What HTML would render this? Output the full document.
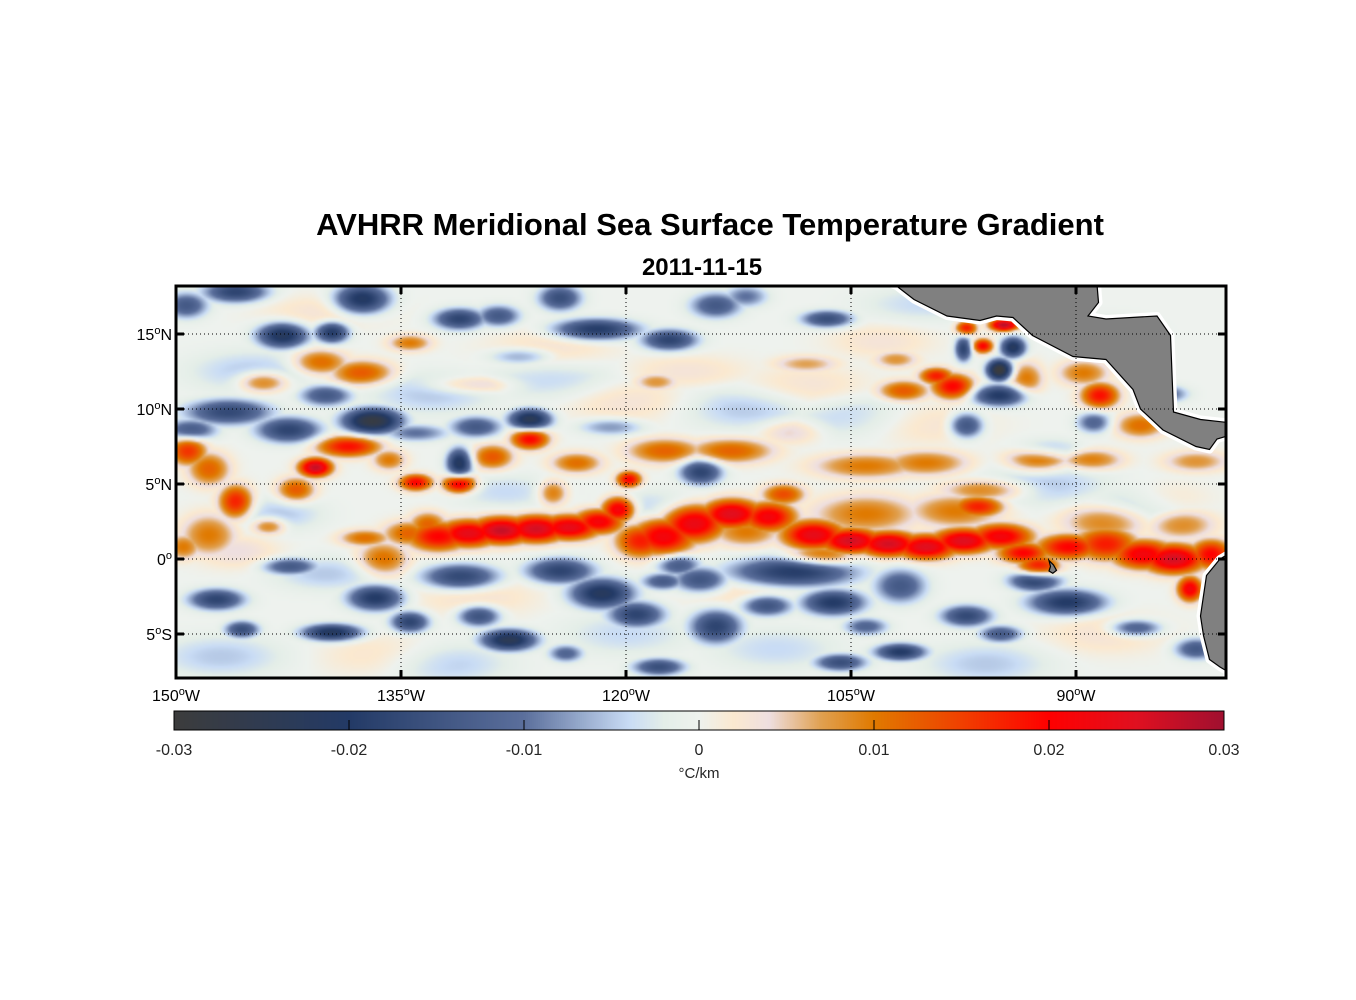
<!DOCTYPE html>
<html><head><meta charset="utf-8"><style>
html,body{margin:0;padding:0;background:#fff;width:1356px;height:1000px;overflow:hidden}
#map{position:absolute;left:176px;top:286px;width:1050px;height:392px}
#cbar{position:absolute;left:174px;top:711px;width:1050px;height:19px}
svg{position:absolute;left:0;top:0}
text{font-family:"Liberation Sans",Arial,sans-serif}
</style></head><body>
<canvas id="map" width="525" height="196"></canvas>
<canvas id="cbar" width="1050" height="19"></canvas>
<svg id="ov" width="1356" height="1000">
<text x="710" y="235" font-size="31" font-weight="bold" text-anchor="middle" fill="#000">AVHRR Meridional Sea Surface Temperature Gradient</text>
<text x="702" y="275" font-size="24" font-weight="bold" text-anchor="middle" fill="#000">2011-11-15</text>
<g id="land"></g>
<g id="grid"></g>
<rect x="176" y="286" width="1050" height="392" fill="none" stroke="#000" stroke-width="3"/>
<g id="labels"></g>
<rect x="174" y="711" width="1050" height="19" fill="none" stroke="#000" stroke-width="1"/>
<g id="cbticks"></g>
<text x="699" y="778" font-size="15" text-anchor="middle" fill="#262626">°C/km</text>
</svg>
<script>
// ---- data ----
const lonTicks=[-150,-135,-120,-105,-90];
const latTicks=[15,10,5,0,-5];
const cbTicks=[-0.03,-0.02,-0.01,0,0.01,0.02,0.03];
const cbLabels=["-0.03","-0.02","-0.01","0","0.01","0.02","0.03"];
const cmapVals=[-0.03,-0.02,-0.01,-0.004,-0.002,0,0.002,0.004,0.007,0.01,0.015,0.02,0.025,0.03];
const cmapCols=["#3c3c3c","#233a66","#5b6f9c","#c9dcf5","#e4eee8","#eef2ee","#fbe9d0","#eedfe0","#e0a050","#e07a00","#f04000","#ff0000","#e01020","#a01030"];
// feature blobs: lon, lat, spread lon, spread lat, value (°C/km)
const blobLon=[-134.5,-132.5,-130.5,-128.3,-126,-123.8,-121.8,-120.5,-119,-117.5,-115.5,-113,-110.5,-109.5,-107.5,-105,-102.5,-100,-97.5,-95,-93.5,-92.5,-90.5,-88,-85.5,-83.5,-81,
-104,-98,-96,-96.5,-88,-83,-112,-107,
-113,-104,-100,-92.5,-89,-82,-109,
-98.2,-101.5,-99.3,-96.2,-97.3,-94.8,-95.1,-94.2,-97.5,-95.1,-97.3,-93.3,-88.4,-89.5,-85.7,-88.8,-91.8,
-114,-106.6,-112,-84,-115,-108,-102,
-109,-106.2,-101.7,-92.7,-90.6,-97.3,-114,-110.6,-101.7,-105.7,-115,-95,-86,-82.4,-82,-104,
-146,-137.6,-131.1,-128.5,-124.4,-122,-117.1,-142.9,-139.6,-149.3,-127,
-140.4,-137.6,-144.2,-134.4,-130.4,-118,
-146.5,-142.5,-136.9,-140,-130,-126.4,-131.1,-134,-149,-121,
-149.2,-147.8,-140.7,-138.5,-142,-146,-147.8,-149.5,-143.8,-137.4,-136.2,-134,-131.1,-135.8,-126.4,-128.9,-123.3,-124.9,-119.8,-117.4,-133.2,
-147.3,-142.4,-136.7,-139.6,-145.6,-134.4,-131,-127.8,-129.8,-124.4,-121.6,-119.3,-117.8,-124,-116.5,-117.5,
-145,-133,-125,-112,-105,-92,-86,-147,-132,-110,-96,-120,-140,-128,-118,-143,-100,-88,
-120,-108,-100,-125,-140,-130,-112,-88,-146,-136,-116,-103,-84];
const blobLat=[1.7,1.5,1.7,1.9,2.0,2.1,2.5,3.3,1.2,1.5,2.4,3.0,2.8,4.3,1.6,1.2,1.0,0.8,1.2,1.5,0.4,-0.6,0.8,1.0,0.3,0.0,0.3,
3.0,3.2,4.6,3.5,2.5,2.3,1.8,0.2,
7.2,6.2,6.4,6.6,6.6,6.5,8.5,
11.5,11.2,12.2,14.2,15.4,15.6,12.6,14.1,14,10.9,8.9,12,10.9,12.4,8.9,9.1,7.3,
16.9,16,17.5,11,5.8,13,13.3,
-0.9,-2.9,-1.8,-1.4,-2.9,-3.8,-4.5,-3.1,-6.2,-6.9,-1.4,-5,-4.6,-2.0,-6,-4.5,
17.8,17.3,16,16.2,17.4,15.3,14.6,14.9,15.1,16.9,13.5,
13.1,12.4,11.8,14.4,11.6,11.8,
9.8,8.6,9.2,10.9,8.8,9.3,6.4,8.4,8.6,8.8,
7.2,6.0,6.1,7.5,4.6,3.8,1.6,0.8,2.2,1.4,0.0,5.1,5.0,6.6,8.0,6.8,6.4,4.4,5.3,7.2,2.3,
-2.7,-0.5,-2.6,-4.9,-4.7,-4.2,-1.2,-5.4,-3.8,-0.8,-2.3,-3.7,-7.2,-6.3,-0.4,-1.5,
12.5,11,12,10,9.5,5,3.5,-6.5,-7,-6,-7,-5,-1,4.5,3.5,3,17,15,
10.5,11.5,9,14,16.5,-2.5,-2,-5,0.5,-6.5,12.5,14.5,4];
const blobSx=[1.2,1.5,1.5,1.5,1.5,1.5,1.2,0.8,1.2,1.5,1.5,1.5,1.3,1,1.5,1.5,1.5,1.5,1.5,1.5,1.2,1,1.5,1.5,1.5,1.5,1,
2.5,2.2,2,1.2,2,1.6,1.6,1.6,
2,2.5,2,1.5,1.5,1.5,1.5,
1,1.2,0.8,0.5,0.5,0.7,0.6,0.6,0.4,1.3,0.8,0.8,0.9,1.2,1.2,0.8,1.5,
1.2,1.2,1,1,1,1.5,1,
3,1.5,1.2,1.2,1.8,1.2,1.2,1.2,1.2,1.2,1.3,1,1.2,0.6,1,1,
1.5,1.3,1.2,1,1,2,1.3,1.2,0.8,1,1.5,
1.3,1.5,1.2,1,2,1,
2,1.5,1.4,1.2,1.2,1,0.6,1.5,1.2,1.5,
0.9,1,0.8,1.5,0.9,0.8,1.3,0.8,0.8,1.2,1.2,0.8,0.8,0.8,0.9,1,1.2,0.7,0.6,1.8,0.9,
1.3,1.3,1.3,1.4,0.8,0.9,1.8,1.3,1,1.6,1.5,1.3,1.2,0.8,1,1,
3,3,3,3,3,3,2.5,3,3,3,3,3,2.5,2.5,2.5,2,3,2,
3,3,3,3,3,3,3,3,2,3,3,2.5,2];
const blobSy=[0.6,0.7,0.65,0.65,0.65,0.6,0.6,0.6,0.8,0.9,0.9,0.7,0.7,0.5,0.7,0.6,0.6,0.6,0.6,0.6,0.5,0.6,0.6,0.8,0.7,0.7,0.7,
0.9,0.8,0.5,0.5,0.8,0.7,0.7,0.5,
0.6,0.6,0.6,0.6,0.5,0.5,0.6,
0.6,0.5,0.4,0.35,0.35,0.3,0.5,0.5,0.6,0.5,0.6,0.8,0.6,0.6,0.6,0.5,0.5,
0.6,0.4,0.5,0.4,0.6,0.4,0.4,
0.7,0.6,0.8,0.5,0.6,0.5,0.8,0.5,0.4,0.4,0.6,0.4,0.4,0.6,0.5,0.4,
0.5,0.7,0.5,0.5,0.6,0.5,0.5,0.6,0.5,0.6,0.4,
0.6,0.6,0.5,0.4,0.4,0.4,
0.6,0.6,0.6,0.5,0.5,0.5,0.7,0.4,0.5,0.4,
0.7,0.8,0.45,0.5,0.6,0.8,1,0.6,0.4,0.4,0.8,0.4,0.45,0.5,0.5,0.6,0.5,0.6,0.4,0.6,0.6,
0.5,0.4,0.6,0.4,0.4,0.5,0.6,0.5,0.5,0.6,0.7,0.6,0.4,0.4,0.5,0.4,
1,1,1,1,1,1,1,1,1,1,1,1,0.8,0.8,0.8,0.8,0.8,0.8,
1,1,1,1,0.8,1,1,1,0.8,1,0.8,0.8,0.8];
const blobVal=[0.012,0.02,0.024,0.027,0.026,0.024,0.022,0.024,0.018,0.022,0.024,0.025,0.022,0.014,0.024,0.026,0.026,0.025,0.025,0.022,0.02,0.02,0.02,0.018,0.022,0.026,0.02,
0.01,0.01,0.01,0.018,0.01,0.009,0.01,0.012,
0.012,0.01,0.01,0.011,0.01,0.008,0.005,
0.02,0.013,0.018,0.02,0.018,0.028,-0.03,-0.022,-0.018,-0.02,-0.016,0.01,0.019,0.01,0.011,-0.012,-0.006,
-0.014,-0.016,-0.01,-0.012,-0.018,0.007,0.008,
-0.02,-0.02,-0.014,-0.022,-0.02,-0.017,-0.018,-0.016,-0.02,-0.016,-0.016,-0.014,-0.014,0.022,-0.014,-0.012,
-0.018,-0.022,-0.018,-0.014,-0.016,-0.02,-0.018,-0.022,-0.02,-0.014,-0.008,
0.012,0.013,0.012,0.01,0.006,0.008,
-0.017,-0.018,-0.028,-0.014,-0.014,-0.024,-0.022,-0.01,-0.014,-0.008,
0.016,0.012,0.027,0.019,0.013,0.018,0.01,0.01,0.011,0.011,0.011,0.02,0.022,0.01,0.02,0.013,0.011,0.011,0.02,0.012,0.012,
-0.018,-0.014,-0.02,-0.022,-0.016,-0.018,-0.018,-0.024,-0.016,-0.018,-0.022,-0.018,-0.016,-0.012,-0.014,-0.014,
-0.005,-0.005,-0.004,-0.005,-0.004,-0.005,-0.004,-0.005,-0.005,-0.004,-0.005,-0.004,-0.005,-0.004,-0.004,-0.005,-0.004,-0.004,
0.003,0.003,0.003,0.003,0.003,0.003,0.003,0.003,0.004,0.003,0.003,0.003,0.003];
// land outlines [lon, lat]
const centralAmerica=[[-102.2,18.3],[-101.96,18.2],[-100.8,17.3],[-98.6,16.2],[-96.4,15.9],[-95.3,16.2],[-94.2,16.1],[-92.9,14.9],[-90.2,13.5],[-88,13.3],[-86.2,11.3],[-85.7,10],[-84.2,8.6],[-82,7.5],[-81.1,7.3],[-80.6,8],[-79.9,8.2],[-79.9,9.1],[-81.7,9.3],[-83.5,9.8],[-83.7,14.9],[-84.6,16.2],[-88,16],[-89.2,16.2],[-88.5,17.1],[-88.6,18.3]];
const southAmerica=[[-79.9,0.3],[-80.4,0],[-81.3,-1.1],[-81.7,-3.8],[-81.5,-5.1],[-81.1,-6.7],[-80.4,-7.2],[-79.9,-7.5],[-79.9,-8.2]];
const galapagos=[[-91.8,-0.1],[-91.5,-0.4],[-91.3,-0.75],[-91.55,-0.95],[-91.8,-0.8],[-91.7,-0.5]];

// ---- axes ----
const X=lon=>176+(lon+150)*15;
const Y=lat=>559-lat*15;
const CB=v=>174+(v+0.03)/0.06*1050;
function hex(h){return [parseInt(h.substr(1,2),16),parseInt(h.substr(3,2),16),parseInt(h.substr(5,2),16)];}
const cmapRGB=cmapCols.map(hex);
function cmap(v){
  if(v<=cmapVals[0])return cmapRGB[0];
  for(let i=1;i<cmapVals.length;i++){
    if(v<=cmapVals[i]){const t=(v-cmapVals[i-1])/(cmapVals[i]-cmapVals[i-1]);const a=cmapRGB[i-1],b=cmapRGB[i];return [a[0]+(b[0]-a[0])*t,a[1]+(b[1]-a[1])*t,a[2]+(b[2]-a[2])*t];}
  }
  return cmapRGB[cmapRGB.length-1];
}
// heatmap
(function(){
  const c=document.getElementById('map'),ctx=c.getContext('2d');
  const W=c.width,H=c.height,img=ctx.createImageData(W,H);
  for(let j=0;j<H;j++){
    const lat=(559-(286+(j+0.5)*2))/15;
    for(let i=0;i<W;i++){
      const lon=(176+(i+0.5)*2-176)/15-150;
      let pos=0,neg=0;
      for(let k=0;k<blobLon.length;k++){
        const dx=(lon-blobLon[k])/blobSx[k],dy=(lat-blobLat[k])/blobSy[k];
        const r2=dx*dx+dy*dy;if(r2>16)continue;
        const v=blobVal[k]*Math.exp(-0.5*Math.pow(r2,1.15));
        if(v>pos)pos=v;if(v<neg)neg=v;
      }
      const col=cmap(pos+neg),p=(j*W+i)*4;
      img.data[p]=col[0];img.data[p+1]=col[1];img.data[p+2]=col[2];img.data[p+3]=255;
    }
  }
  ctx.putImageData(img,0,0);
})();
// colorbar
(function(){
  const c=document.getElementById('cbar'),ctx=c.getContext('2d');
  for(let i=0;i<c.width;i++){const col=cmap(-0.03+(i+0.5)/c.width*0.06);ctx.fillStyle='rgb('+col.map(Math.round).join(',')+')';ctx.fillRect(i,0,1,c.height);}
})();
const NS='http://www.w3.org/2000/svg';
function mk(tag,attrs,parent){const e=document.createElementNS(NS,tag);for(const k in attrs)e.setAttribute(k,attrs[k]);parent.appendChild(e);return e;}
// land
const land=document.getElementById('land');
const clip=mk('clipPath',{id:'mapclip'},document.getElementById('ov'));
mk('rect',{x:176,y:286,width:1050,height:392},clip);
land.setAttribute('clip-path','url(#mapclip)');
[[centralAmerica,'central-america'],[southAmerica,'south-america'],[galapagos,'galapagos-islands']].forEach(([poly,name])=>{
  const pts=poly.map(p=>X(p[0]).toFixed(1)+','+Y(p[1]).toFixed(1)).join(' ');
  if(name!=='galapagos-islands'){
    const halo=mk('polygon',{points:pts,fill:'#fff',stroke:'#fff','stroke-width':8,'stroke-linejoin':'round'},land);
    
    
  }
  const pg=mk('polygon',{points:pts,fill:'#808080',stroke:'#000','stroke-width':1.2},land);
  
  
});
// grid + ticks
const grid=document.getElementById('grid');
lonTicks.forEach(lon=>{
  const x=X(lon);
  if(lon>-150){const l=mk('line',{x1:x,y1:286,x2:x,y2:678,stroke:'#000','stroke-width':1,'stroke-dasharray':'1,3'},grid);
  
  }
  [[286,294],[678,670]].forEach(([a,b])=>{const t=mk('line',{x1:x,y1:a,x2:x,y2:b,stroke:'#000','stroke-width':3},grid);
  
  });
});
latTicks.forEach(lat=>{
  const y=Y(lat);
  const l=mk('line',{x1:176,y1:y,x2:1226,y2:y,stroke:'#000','stroke-width':1,'stroke-dasharray':'1,3'},grid);
  
  
  [[176,184],[1226,1218]].forEach(([a,b])=>{const t=mk('line',{x1:a,y1:y,x2:b,y2:y,stroke:'#000','stroke-width':3},grid);
  
  });
});
// labels
const labels=document.getElementById('labels');
function degLabel(x,y,num,suffix,anchor,name){
  const t=mk('text',{x:x,y:y,'font-size':16,'text-anchor':anchor,fill:'#000'},labels);
  
  
  mk('tspan',{},t).textContent=num;
  mk('tspan',{dy:-6,'font-size':11},t).textContent='o';
  mk('tspan',{dy:6},t).textContent=suffix;
}
lonTicks.forEach(lon=>degLabel(X(lon),701,String(Math.abs(lon)),'W','middle','x-tick-label'));
latTicks.forEach(lat=>degLabel(172,Y(lat)+6,String(Math.abs(lat)),lat>0?'N':(lat<0?'S':''),'end','y-tick-label'));
// colorbar ticks
const cbt=document.getElementById('cbticks');
cbTicks.forEach((v,i)=>{
  const x=CB(v);
  if(i>0&&i<cbTicks.length-1){const l=mk('line',{x1:x,y1:720,x2:x,y2:730,stroke:'#000','stroke-width':1},cbt);
  
  }
  const t=mk('text',{x:x,y:755,'font-size':16,'text-anchor':'middle',fill:'#262626'},cbt);
  
  
  t.textContent=cbLabels[i];
});
</script>
</body></html>
